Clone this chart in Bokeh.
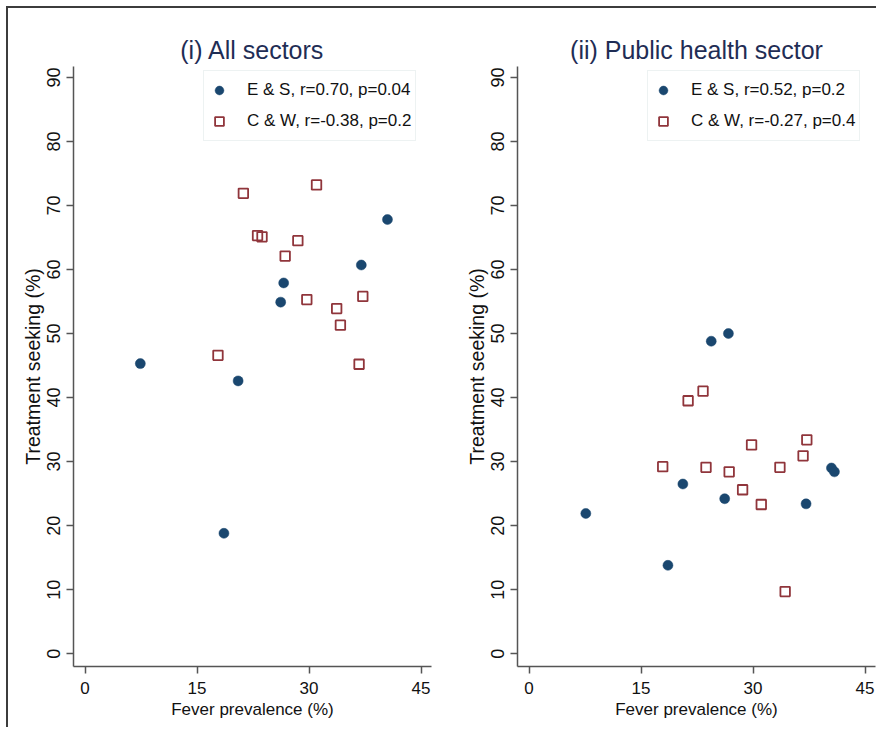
from bokeh.plotting import figure
from bokeh.models import Range1d, Legend, LegendItem, FixedTicker
from bokeh.layouts import row
from bokeh.embed import file_html
from bokeh.resources import INLINE

FONT = "Liberation Sans"

# ---- data ----
x_ticks = [0, 15, 30, 45]
y_ticks = [0, 10, 20, 30, 40, 50, 60, 70, 80, 90]

titles = ["(i) All sectors", "(ii) Public health sector"]

# (i) All sectors
es_all_x = [7.4, 18.6, 20.5, 26.2, 26.6, 37.0, 40.5]
es_all_y = [45.3, 18.8, 42.6, 54.9, 57.9, 60.7, 67.8]
cw_all_x = [17.8, 21.2, 23.1, 23.7, 26.8, 28.5, 29.7, 31.0, 33.7, 34.2, 36.7, 37.2]
cw_all_y = [46.6, 71.9, 65.3, 65.1, 62.1, 64.5, 55.3, 73.2, 53.9, 51.3, 45.2, 55.8]
labels_all = ["E & S, r=0.70, p=0.04", "C & W, r=-0.38, p=0.2"]

# (ii) Public health sector
es_pub_x = [7.6, 18.6, 20.6, 24.4, 26.2, 26.7, 37.1, 40.5, 40.9]
es_pub_y = [21.9, 13.8, 26.5, 48.8, 24.2, 50.0, 23.4, 29.0, 28.4]
cw_pub_x = [17.9, 21.3, 23.3, 23.7, 26.8, 28.6, 29.8, 31.1, 33.6, 34.3, 36.7, 37.2]
cw_pub_y = [29.2, 39.5, 41.0, 29.1, 28.4, 25.6, 32.6, 23.3, 29.1, 9.7, 30.9, 33.4]
labels_pub = ["E & S, r=0.52, p=0.2", "C & W, r=-0.27, p=0.4"]

NAVY = "#1a476f"
MAROON = "#90353b"
TITLE_COLOR = "#1f2d55"
AXIS_COLOR = "#555555"


def make_panel(title, xe, ye, xc, yc, labels, min_left, min_right):
    frame_w, frame_h = 358, 600
    top, bottom = 58, 61
    p = figure(width=min_left + frame_w + min_right, height=top + frame_h + bottom,
               output_backend="svg", toolbar_location=None,
               x_range=Range1d(-1.55, 46.4), y_range=Range1d(-2.0, 91.7),
               min_border_left=min_left, min_border_right=min_right,
               min_border_top=top, min_border_bottom=bottom)
    p.title.text = title
    p.title.align = "center"
    p.title.text_font = FONT
    p.title.text_font_size = "25px"
    p.title.text_font_style = "normal"
    p.title.text_color = TITLE_COLOR
    p.title.standoff = 5

    p.outline_line_color = None
    p.background_fill_color = "white"
    p.border_fill_color = "white"
    p.grid.visible = False

    for ax in (p.xaxis[0], p.yaxis[0]):
        ax.axis_line_color = AXIS_COLOR
        ax.axis_line_width = 1.5
        ax.major_tick_line_color = AXIS_COLOR
        ax.major_tick_line_width = 1.5
        ax.major_tick_in = 0
        ax.major_tick_out = 7
        ax.minor_tick_line_color = None
        ax.major_label_text_font = FONT
        ax.major_label_text_font_size = "17px"
        ax.major_label_text_color = "#111111"
        ax.axis_label_text_font = FONT
        ax.axis_label_text_font_size = "17px"
        ax.axis_label_text_font_style = "normal"
        ax.axis_label_text_color = "#111111"

    p.xaxis.ticker = FixedTicker(ticks=x_ticks)
    p.yaxis.ticker = FixedTicker(ticks=y_ticks)
    p.xaxis.axis_label = "Fever prevalence (%)"
    p.yaxis.axis_label = "Treatment seeking (%)"
    p.yaxis.major_label_orientation = "vertical"
    p.yaxis.major_label_text_font_size = "18px"
    p.yaxis.axis_label_text_font_size = "19.5px"
    p.xaxis.major_label_standoff = 8
    p.yaxis.major_label_standoff = 6
    p.xaxis.axis_label_standoff = 3
    p.yaxis.axis_label_standoff = 1

    r_es = p.scatter(xe, ye, marker="circle", size=10, fill_color=NAVY,
                     line_color=NAVY, line_width=0.5)
    r_cw = p.scatter(xc, yc, marker="square", size=9.5, fill_color=None,
                     line_color=MAROON, line_width=1.8)

    legend = Legend(items=[LegendItem(label=labels[0], renderers=[r_es]),
                           LegendItem(label=labels[1], renderers=[r_cw])],
                    location=(130, 525))
    legend.label_text_font = FONT
    legend.label_text_font_size = "17px"
    legend.label_text_color = "#111111"
    legend.label_height = 30
    legend.glyph_height = 22
    legend.glyph_width = 22
    legend.padding = 4
    legend.spacing = 1
    legend.label_standoff = 17
    legend.margin = 0
    legend.border_line_color = "#dce6e6"
    legend.border_line_width = 1
    legend.background_fill_color = "white"
    legend.background_fill_alpha = 1.0
    p.add_layout(legend)
    return p


p1 = make_panel(titles[0], es_all_x, es_all_y, cw_all_x, cw_all_y, labels_all, 65, 10)
p2 = make_panel(titles[1], es_pub_x, es_pub_y, cw_pub_x, cw_pub_y, labels_pub, 76, 1)

layout = row(p1, p2, margin=(6, 0, 0, 6),
             styles={"border-left": "2px solid #3c3c3c",
                     "border-top": "2px solid #3c3c3c"})

open("out.html", "w").write(file_html(layout, INLINE))
